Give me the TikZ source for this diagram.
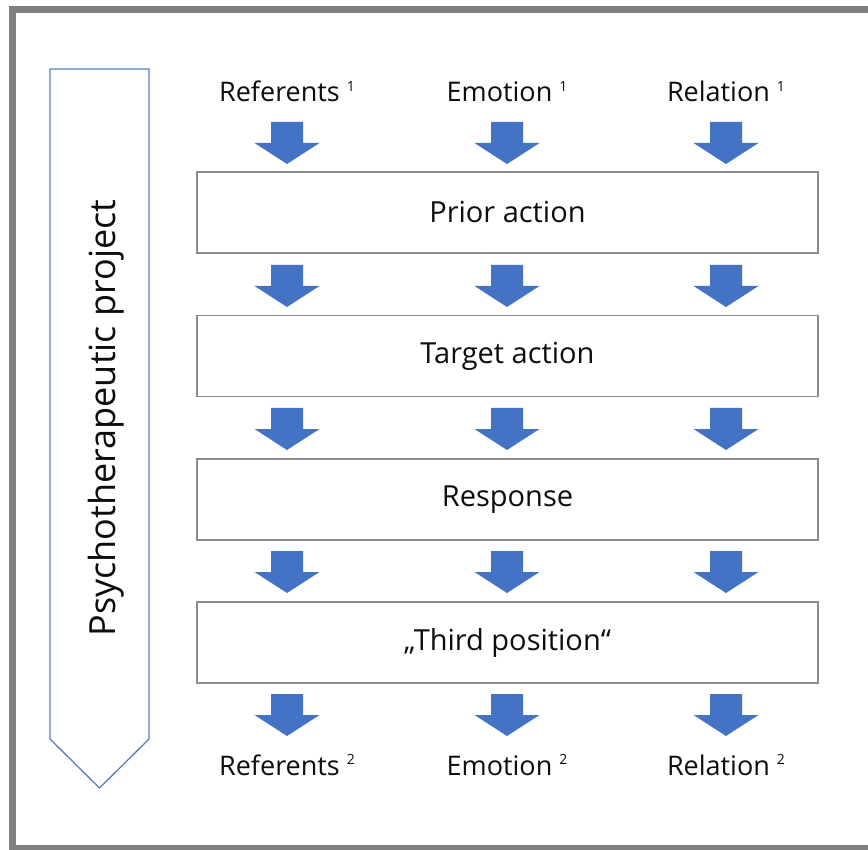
\documentclass[tikz,border=0pt]{standalone}
\usepackage{fontspec}
\setmainfont{Open Sans}
\definecolor{ablue}{HTML}{4472C4}
\definecolor{pblue}{HTML}{5A7EC2}
\definecolor{frameg}{HTML}{808080}
\definecolor{boxg}{HTML}{8C8C8C}
\definecolor{txt}{HTML}{0D0D0D}
\newcommand\supnum[1]{\raisebox{10.5pt}{\fontsize{14}{14}\selectfont #1}}
\begin{document}
\begin{tikzpicture}[x=1pt,y=-1pt,
  stage/.style={draw=boxg, line width=1.8pt, fill=white, minimum width=621pt,
    minimum height=81pt, inner sep=0pt, font=\fontsize{29}{34}\selectfont, text=txt},
  lab/.style={font=\fontsize{27}{32}\selectfont, text=txt, anchor=base, inner sep=0pt},
  barrow/.pic={\fill[ablue] (-16,0) -- (16,0) -- (16,21) -- (32.5,21) -- (0,42) -- (-32.5,21) -- (-16,21) -- cycle;}]
\useasboundingbox (0,0) rectangle (868,850);
\fill[white] (0,0) rectangle (868,850);
% outer frame
\draw[frameg, line width=7pt] (12,9.5) rectangle (895,848.5);
% project pentagon arrow
\draw[pblue, line width=1.3pt, line join=miter] (50,69) -- (149,69) -- (149,739) -- (99.5,788) -- (50,739) -- cycle;
\node[rotate=90, anchor=base, font=\fontsize{36}{40}\selectfont, text=txt, inner sep=0pt] (proj) at (115,418) {Psychotherapeutic project};
% labels
\node[lab] (ref1) at (287,102) {Referents \supnum{1}};
\node[lab] (emo1) at (507,102) {Emotion \supnum{1}};
\node[lab] (rel1) at (726,102) {Relation \supnum{1}};
\node[lab] (ref2) at (287,775) {Referents \supnum{2}};
\node[lab] (emo2) at (507,775) {Emotion \supnum{2}};
\node[lab] (rel2) at (726,775) {Relation \supnum{2}};
% stages
\node[stage] (prior) at (507.5,212.5) {Prior action};
\node[stage] (target) at (507.5,356) {Target action};
\node[stage] (resp) at (507.5,499.5) {Response};
\node[stage] (third) at (507.5,642.5) {„Third position“};
% block arrows
\foreach \yy in {122,265,408,551,694} {
  \foreach \xx in {287,507,726} {
    \pic at (\xx,\yy) {barrow};
  }
}
\end{tikzpicture}
\end{document}
